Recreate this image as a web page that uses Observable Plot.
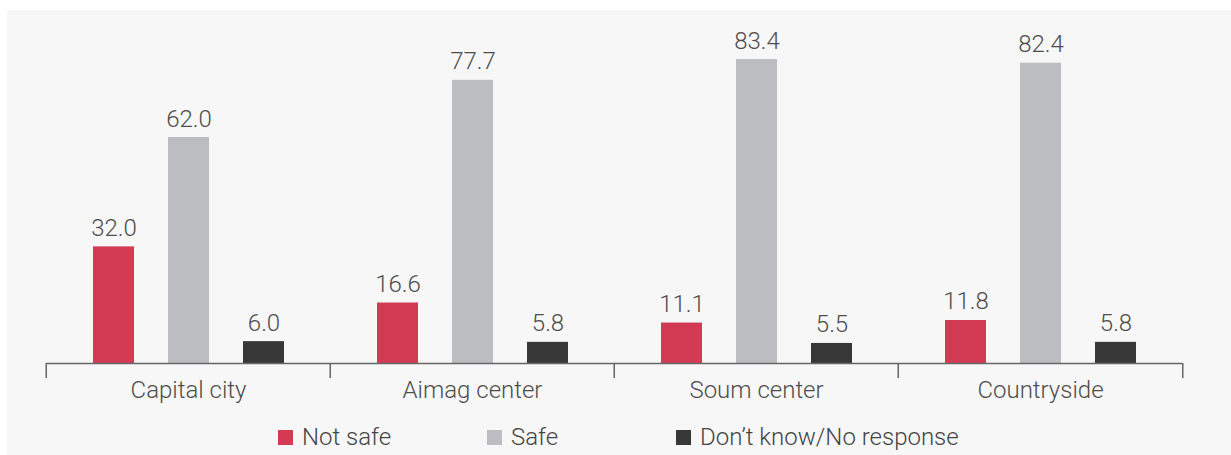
<!DOCTYPE html>
<html>
<head>
<meta charset="utf-8">
<script src="https://cdn.jsdelivr.net/npm/d3@7"></script>
<script src="https://cdn.jsdelivr.net/npm/@observablehq/plot@0.6"></script>
<style>
  html, body { margin: 0; padding: 0; background: #ffffff; }
  body { width: 1231px; height: 455px; overflow: hidden; position: relative; font-family: Roboto, "Noto Sans", sans-serif; }
  #panel { position: absolute; left: 7px; top: 10px; width: 1224px; height: 445px; background: #f7f7f7; }
  #chart svg { display: block; }
  #legend { position: absolute; left: 271px; top: 413px; display: flex; align-items: center; font-size: 24px; font-weight: 300; color: #444; }
  .item { display: flex; align-items: center; }
  .sw { width: 15px; height: 15px; margin-right: 9px; }
</style>
</head>
<body>
<div id="panel">
  <div id="chart"></div>
  <div id="legend"></div>
</div>
<script>
const categories = ["Capital city", "Aimag center", "Soum center", "Countryside"];
const series = ["Not safe", "Safe", "Don’t know/No response"];
const colors = ["#d33a53", "#bcbdc0", "#383838"];
const notSafe = [32.0, 16.6, 11.1, 11.8];
const safe = [62.0, 77.7, 83.4, 82.4];
const dontKnow = [6.0, 5.8, 5.5, 5.8];

const valuesBySeries = [notSafe, safe, dontKnow];
const data = [];
categories.forEach((c, i) => {
  series.forEach((s, j) => {
    data.push({category: c, series: s, value: valuesBySeries[j][i]});
  });
});

const W = 1224, H = 405, ML = 38, MR = 48;
const half = (W - ML - MR) / categories.length / 2;

const chart = Plot.plot({
  width: W,
  height: H,
  marginTop: 25,
  marginBottom: 52,
  marginLeft: ML,
  marginRight: MR,
  style: {background: "transparent", fontFamily: "Roboto, 'Noto Sans', sans-serif"},
  fx: {domain: categories, padding: 0, label: null},
  x: {domain: series, paddingInner: 0.46, paddingOuter: 0.6, axis: null},
  y: {domain: [0, 90], axis: null},
  color: {domain: series, range: colors},
  marks: [
    Plot.barY(data, {fx: "category", x: "series", y: "value", fill: "series"}),
    Plot.text(data, {
      fx: "category", x: "series", y: "value",
      text: d => d.value.toFixed(1),
      lineAnchor: "bottom", dy: -11,
      fontSize: 24, fontWeight: 300, fill: "#4d4d4d"
    }),
    Plot.ruleY([0], {stroke: "#666", strokeWidth: 1.5}),
    Plot.axisFx({anchor: "bottom", tickSize: 0, tickPadding: 17, fontSize: 24, fontWeight: 300, fill: "#4d4d4d", label: null}),
    Plot.axisFx({anchor: "bottom", tickSize: 15, text: null, dx: -half, stroke: "#666", strokeWidth: 1.5, label: null}),
    Plot.axisFx({anchor: "bottom", ticks: [categories[categories.length - 1]], tickSize: 15, text: null, dx: half, stroke: "#666", strokeWidth: 1.5, label: null})
  ]
});
document.getElementById("chart").appendChild(chart);

const legend = document.getElementById("legend");
const widths = [209, 189, null];
series.forEach((s, i) => {
  const item = document.createElement("div");
  item.className = "item";
  if (widths[i]) item.style.width = widths[i] + "px";
  const sw = document.createElement("span");
  sw.className = "sw";
  sw.style.background = colors[i];
  const t = document.createElement("span");
  t.textContent = s;
  item.appendChild(sw);
  item.appendChild(t);
  legend.appendChild(item);
});
</script>
</body>
</html>
